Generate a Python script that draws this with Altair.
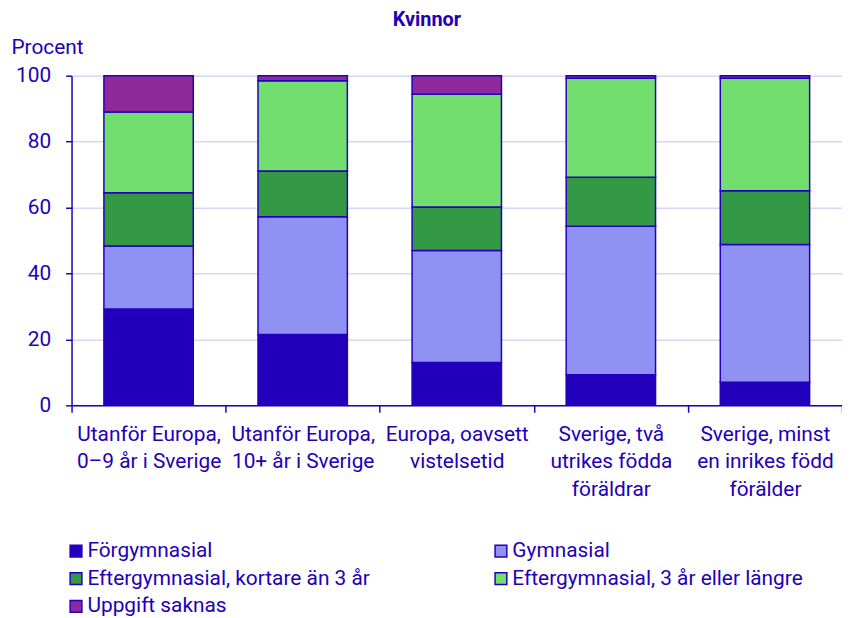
import altair as alt
import pandas as pd

categories = [
    "Utanför Europa,\n0–9 år i Sverige",
    "Utanför Europa,\n10+ år i Sverige",
    "Europa, oavsett\nvistelsetid",
    "Sverige, två\nutrikes födda\nföräldrar",
    "Sverige, minst\nen inrikes född\nförälder",
]
series = [
    "Förgymnasial",
    "Gymnasial",
    "Eftergymnasial, kortare än 3 år",
    "Eftergymnasial, 3 år eller längre",
    "Uppgift saknas",
]
forgymnasial = [29.2, 21.5, 13.0, 9.3, 7.0]
gymnasial = [19.1, 35.7, 34.0, 45.0, 41.8]
efter_kort = [16.2, 13.9, 13.2, 14.9, 16.3]
efter_lang = [24.5, 27.4, 34.2, 30.0, 34.1]
uppgift = [11.0, 1.5, 5.6, 0.8, 0.8]
colors = ["#2200BB", "#8F92F3", "#339944", "#72DE6D", "#8E2A9C"]

values = [forgymnasial, gymnasial, efter_kort, efter_lang, uppgift]
rows = []
for si, (s, vals) in enumerate(zip(series, values)):
    for ci, c in enumerate(categories):
        rows.append({"cat": c, "serie": s, "value": vals[ci], "ord": si})
df = pd.DataFrame(rows)

TXT = "#2200B8"

chart = alt.Chart(df).mark_bar(stroke="#2200BB", strokeWidth=1.5,
                               width=alt.RelativeBandSize(0.58)).encode(
    x=alt.X("cat:N", sort=categories, title=None,
            scale=alt.Scale(paddingInner=0, paddingOuter=0),
            axis=alt.Axis(labelAngle=0, labelExpr="split(datum.label, '\\n')",
                          labelFontSize=21, labelLineHeight=28, labelPadding=11,
                          tickBand="extent", tickSize=7, labelBaseline="top")),
    y=alt.Y("value:Q", stack="zero", scale=alt.Scale(domain=[0, 100]),
            title="Procent",
            axis=alt.Axis(values=[0, 20, 40, 60, 80, 100], tickSize=6,
                          labelFontSize=21, labelPadding=15,
                          titleAngle=0, titleAlign="left", titleBaseline="bottom",
                          titleX=-61, titleY=-18, titleFontSize=21,
                          titleFontWeight="normal")),
    color=alt.Color("serie:N", sort=series,
                    scale=alt.Scale(domain=series, range=colors),
                    legend=alt.Legend(title=None, orient="none", legendX=-6, legendY=468,
                                      columns=2, direction="horizontal",
                                      columnPadding=121, rowPadding=6,
                                      symbolType="square", symbolSize=140,
                                      symbolStrokeColor="#2200BB", symbolStrokeWidth=1.5,
                                      labelFontSize=21, labelLimit=400, labelOffset=1)),
    order=alt.Order("ord:Q", sort="ascending"),
).properties(
    width=776, height=332,
    title=alt.TitleParams("Kvinnor", frame="bounds", anchor="middle",
                          fontSize=20, fontWeight="bold", color=TXT, offset=7),
    padding={"left": 64, "top": 66, "right": 0, "bottom": 210},
    autosize=alt.AutoSizeParams(type="none"),
).configure(
    font="Roboto",
).configure_axis(
    labelColor=TXT, titleColor=TXT, domainColor="#2200BB", tickColor="#2200BB",
    domainWidth=1.5, tickWidth=1.5, gridColor="#D6D6F2", gridWidth=1.5,
    labelFont="Roboto", titleFont="Roboto",
).configure_axisX(grid=False).configure_legend(
    labelColor=TXT, labelFont="Roboto"
).configure_view(stroke=None)

chart.save("out.html", embed_options={"renderer": "svg", "actions": False})
